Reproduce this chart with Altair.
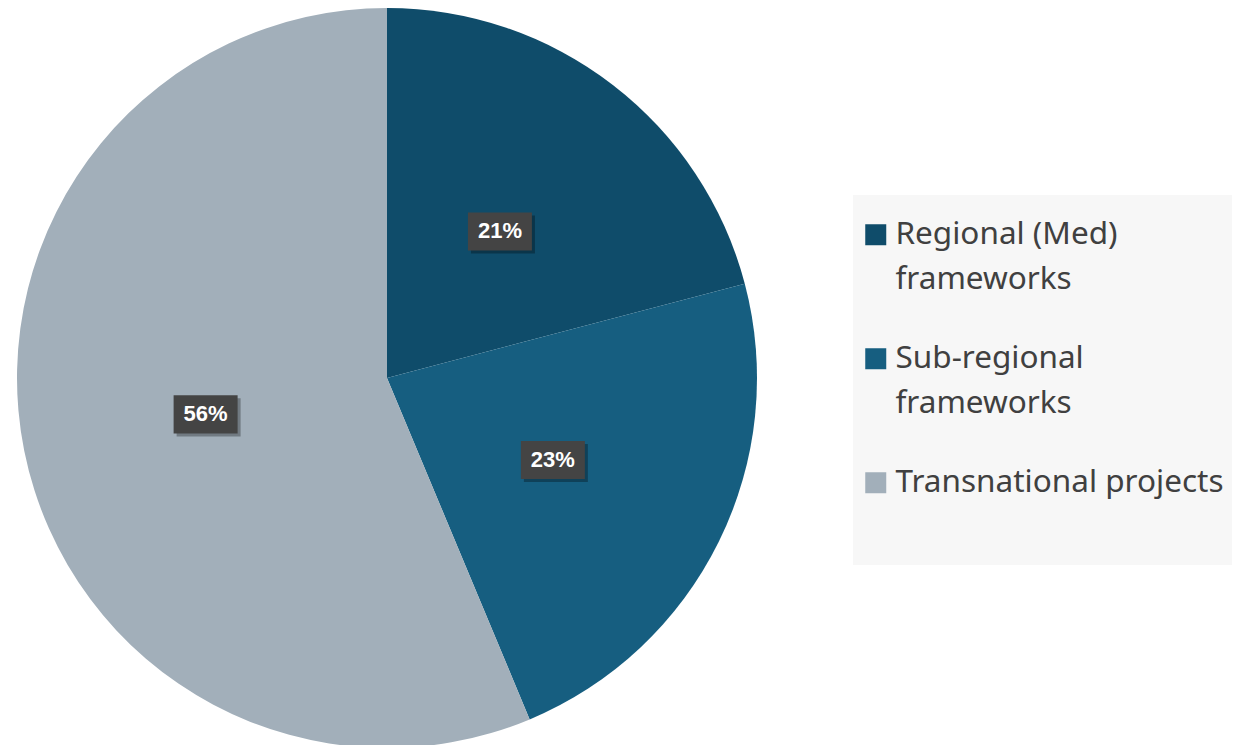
import altair as alt
import pandas as pd

categories = ["Regional (Med) frameworks", "Sub-regional frameworks", "Transnational projects"]
values = [20.9, 22.8, 56.3]
colors = ["#0f4c6a", "#165e80", "#a2afba"]
legend_lines = [["Regional (Med)", "frameworks"], ["Sub-regional", "frameworks"], ["Transnational projects"]]

df = pd.DataFrame({"category": categories, "value": values, "order": list(range(len(categories)))})

label_expr = ""
for c, lines in zip(categories, legend_lines):
    arr = "[" + ",".join("'" + l + "'" for l in lines) + "]"
    label_expr += f"datum.label == '{c}' ? {arr} : "
label_expr += "datum.label"

CX, CY, R = 387, 378, 370

# legend panel background
panel = alt.Chart(alt.Data(values=[{"a": 1}])).mark_rect(color="#f7f7f7").encode(
    x=alt.value(853), x2=alt.value(1232), y=alt.value(195), y2=alt.value(565)
)

base = alt.Chart(df)

pie = base.mark_arc(outerRadius=R).encode(
    theta=alt.Theta("value:Q", stack=True),
    color=alt.Color(
        "category:N",
        scale=alt.Scale(domain=categories, range=colors),
        sort=categories,
        legend=alt.Legend(
            title=None,
            orient="none",
            legendX=860,
            legendY=219,
            padding=0,
            symbolType="square",
            symbolSize=441,
            symbolStrokeWidth=0,
            labelFont="Noto Sans",
            labelFontSize=31.5,
            labelColor="#404040",
            labelLimit=0,
            labelExpr=label_expr,
            rowPadding=46,
            labelOffset=4,
        ),
    ),
    order=alt.Order("order:Q"),
    x=alt.value(CX),
    y=alt.value(CY),
)

lab = base.transform_joinaggregate(total="sum(value)").transform_window(
    cum="sum(value)", sort=[alt.SortField("order")], frame=[None, 0]
).transform_calculate(
    mid="(datum.cum - datum.value/2) / datum.total * 2 * PI",
    lx="0.5 * sin(datum.mid)",
    ly="0.5 * cos(datum.mid)",
    pct="format(datum.value / datum.total, '.0%')",
)

xs = alt.Scale(domain=[-1, 1], range=[CX - R, CX + R])
ys = alt.Scale(domain=[-1, 1], range=[CY + R, CY - R])

box_path = "M-1,-0.594L1,-0.594L1,0.594L-1,0.594Z"

shadow = lab.mark_point(shape=box_path, filled=True, size=4096, color="#000000", opacity=0.3,
                        xOffset=3, yOffset=3, strokeWidth=0).encode(
    x=alt.X("lx:Q", scale=xs, axis=None), y=alt.Y("ly:Q", scale=ys, axis=None)
)
box = lab.mark_point(shape=box_path, filled=True, size=4096, color="#444444", opacity=1,
                     strokeWidth=0).encode(
    x=alt.X("lx:Q", scale=xs, axis=None), y=alt.Y("ly:Q", scale=ys, axis=None)
)
txt = lab.mark_text(font="Liberation Sans", fontSize=22, fontWeight="bold", color="white").encode(
    x=alt.X("lx:Q", scale=xs, axis=None), y=alt.Y("ly:Q", scale=ys, axis=None), text="pct:N"
)

chart = alt.layer(panel, pie, shadow, box, txt).properties(
    width=1250, height=745, padding=0, autosize=alt.AutoSizeParams(type="none"),
    background="white",
).configure(
    style={"guide-label": {"lineHeight": 45}},
    view=alt.ViewConfig(stroke=None),
)

chart.save("out.html", embed_options={"renderer": "svg", "actions": False})
